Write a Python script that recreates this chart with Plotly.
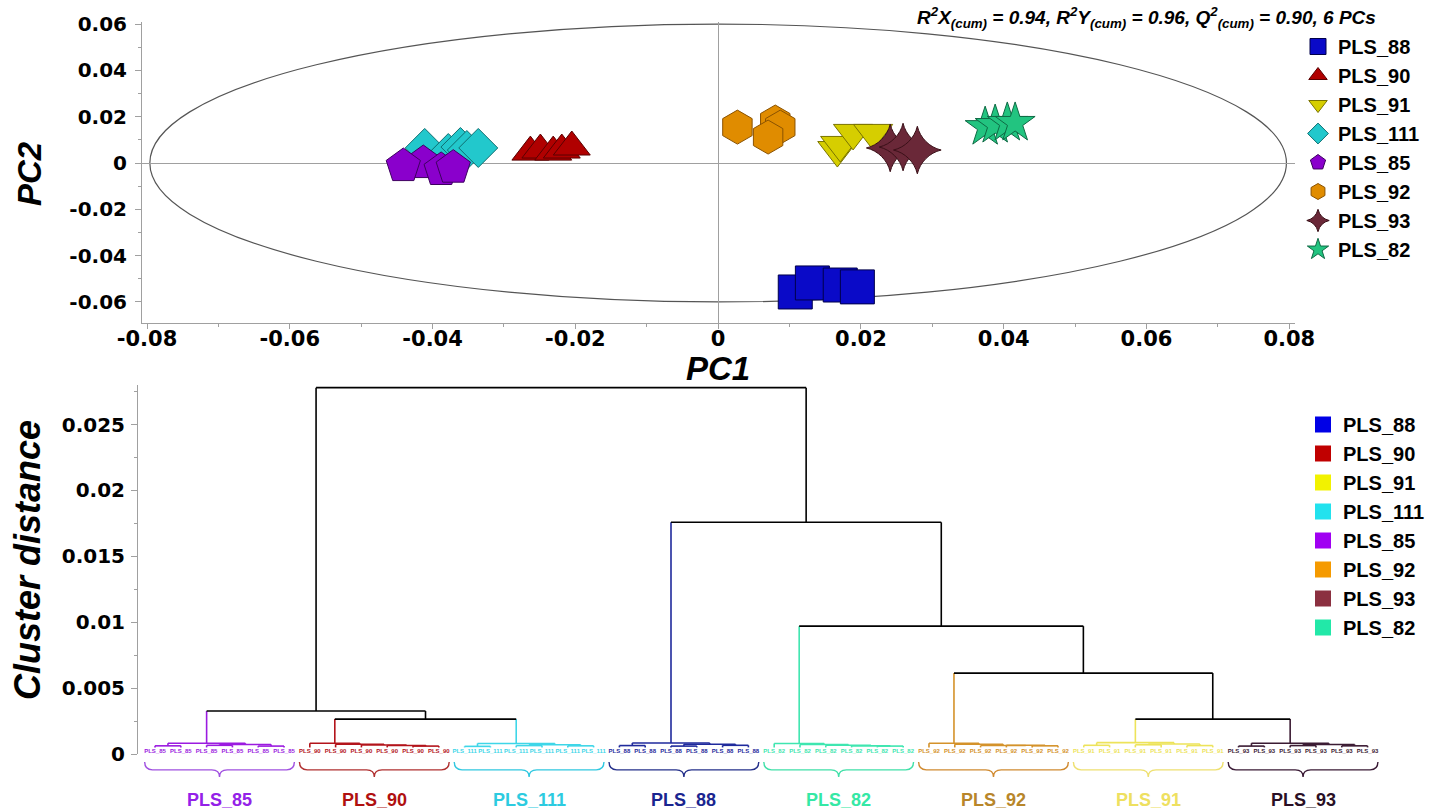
import plotly.graph_objects as go

# ---------------- Top panel: PLS score plot ----------------
SCORE_GROUPS = ["PLS_88", "PLS_90", "PLS_91", "PLS_111", "PLS_85", "PLS_92", "PLS_93", "PLS_82"]
SCORE_SYMBOLS = ["square", "triangle-up", "triangle-down", "diamond", "pentagon", "hexagon", "star-diamond", "star"]
SCORE_COLORS = ["#0A0AC8", "#B00000", "#D6CE00", "#22C8CC", "#8A00CC", "#E08C00", "#6A2838", "#22C480"]
SCORE_LINE_COLORS = ["#00004A", "#5A0000", "#7A7400", "#0E6E70", "#3E0060", "#8A5200", "#3A1018", "#0E6A44"]
SCORE_SIZES = [34, 32, 34, 30, 36, 34, 34, 30]

PC1_88 = [0.0108, 0.0132, 0.0171, 0.0195]
PC2_88 = [-0.0557, -0.0518, -0.0527, -0.0535]
PC1_90 = [-0.0263, -0.0249, -0.0231, -0.0219, -0.0205]
PC2_90 = [0.0047, 0.0056, 0.0047, 0.0056, 0.0069]
PC1_91 = [0.0167, 0.0171, 0.0189, 0.0217]
PC2_91 = [0.0056, 0.0078, 0.0130, 0.0130]
PC1_111 = [-0.0411, -0.0378, -0.0361, -0.0352, -0.0336]
PC2_111 = [0.0065, 0.0043, 0.0069, 0.0056, 0.0065]
PC1_85 = [-0.0413, -0.0441, -0.0388, -0.0371]
PC2_85 = [0.0000, -0.0013, -0.0030, -0.0020]
PC1_92 = [0.0027, 0.0080, 0.0087, 0.0070]
PC2_92 = [0.0155, 0.0177, 0.0155, 0.0112]
PC1_93 = [0.0241, 0.0259, 0.0279]
PC2_93 = [0.0065, 0.0069, 0.0056]
PC1_82 = [0.0374, 0.0388, 0.0405, 0.0416]
PC2_82 = [0.0155, 0.0164, 0.0173, 0.0173]

SCORE_PC1 = [PC1_88, PC1_90, PC1_91, PC1_111, PC1_85, PC1_92, PC1_93, PC1_82]
SCORE_PC2 = [PC2_88, PC2_90, PC2_91, PC2_111, PC2_85, PC2_92, PC2_93, PC2_82]

ELLIPSE_A = 0.0796
ELLIPSE_B = 0.0600

PC1_TICKS = [-0.08, -0.06, -0.04, -0.02, 0, 0.02, 0.04, 0.06, 0.08]
PC1_TICKTEXT = ["-0.08", "-0.06", "-0.04", "-0.02", "0", "0.02", "0.04", "0.06", "0.08"]
PC2_TICKS = [-0.06, -0.04, -0.02, 0, 0.02, 0.04, 0.06]
PC2_TICKTEXT = ["-0.06", "-0.04", "-0.02", "0", "0.02", "0.04", "0.06"]

# ---------------- Bottom panel: dendrogram ----------------
LEAF_GROUPS = ["PLS_85", "PLS_90", "PLS_111", "PLS_88", "PLS_82", "PLS_92", "PLS_91", "PLS_93"]
LEAF_LINE_COLORS = ["#9B1BE0", "#B3141B", "#3ED6E8", "#1F2A9C", "#3FE6B0", "#D4922A", "#EDE35A", "#3B1B33"]
GROUP_LABEL_COLORS = ["#9421E8", "#B01010", "#2CCBE0", "#1A2590", "#35E8A5", "#B8862A", "#EEE060", "#2A0F25"]
BRACKET_COLORS = ["#A050E0", "#B03030", "#30C8E0", "#25308A", "#40E0A8", "#D08A30", "#EEE070", "#3A1A35"]
N_PER_GROUP = 6

TOPOLOGY_A = [[0, 1], [2, 3], [4, 5], [7, 8], [6, 9]]
TOPOLOGY_B = [[4, 5], [3, 6], [2, 7], [1, 8], [0, 9]]
GROUP_TOPOLOGY = ["A", "B", "A", "A", "B", "B", "A", "A"]

WITHIN_85 = [0.00062, 0.00066, 0.00060, 0.00072, 0.00082]
WITHIN_90 = [0.00060, 0.00064, 0.00068, 0.00074, 0.00082]
WITHIN_111 = [0.00058, 0.00064, 0.00062, 0.00070, 0.00080]
WITHIN_88 = [0.00064, 0.00060, 0.00066, 0.00074, 0.00084]
WITHIN_82 = [0.00060, 0.00062, 0.00066, 0.00072, 0.00080]
WITHIN_92 = [0.00062, 0.00066, 0.00064, 0.00074, 0.00082]
WITHIN_91 = [0.00066, 0.00070, 0.00064, 0.00076, 0.00086]
WITHIN_93 = [0.00060, 0.00064, 0.00062, 0.00072, 0.00082]
WITHIN_HEIGHTS = [WITHIN_85, WITHIN_90, WITHIN_111, WITHIN_88, WITHIN_82, WITHIN_92, WITHIN_91, WITHIN_93]

# group-level merges (ids >= 8 refer to earlier merges, scipy style)
GROUP_MERGES = [[1, 2], [0, 8], [6, 7], [5, 10], [4, 11], [3, 12], [9, 13]]
GROUP_MERGE_HEIGHTS = [0.00265, 0.00326, 0.00265, 0.00614, 0.0097, 0.01758, 0.0278]

LEAF_BASE = 0.0005
LEAF_LABEL_Y = 0.00018

DIST_TICKS = [0, 0.005, 0.01, 0.015, 0.02, 0.025]
DIST_TICKTEXT = ["0", "0.005", "0.01", "0.015", "0.02", "0.025"]

LEGEND2_GROUPS = ["PLS_88", "PLS_90", "PLS_91", "PLS_111", "PLS_85", "PLS_92", "PLS_93", "PLS_82"]
LEGEND2_COLORS = ["#0000E6", "#C00000", "#F2F200", "#22E2EE", "#A000F2", "#F59A00", "#8B3040", "#22E8A8"]

W, H = 1452, 811
BLACK = "#000000"

fig = go.Figure()

# ---- score traces
for name, sym, col, lc, sz, xs, ys in zip(SCORE_GROUPS, SCORE_SYMBOLS, SCORE_COLORS,
                                          SCORE_LINE_COLORS, SCORE_SIZES, SCORE_PC1, SCORE_PC2):
    fig.add_trace(go.Scatter(
        x=xs, y=ys, mode="markers", name=name, xaxis="x", yaxis="y", legend="legend",
        marker=dict(symbol=sym, size=sz, color=col, line=dict(color=lc, width=1)),
        hoverinfo="x+y+name"))

# ---- dendrogram construction
topos = {"A": TOPOLOGY_A, "B": TOPOLOGY_B}
node_x, node_h, node_g = {}, {}, {}
n_leaves = len(LEAF_GROUPS) * N_PER_GROUP
for i in range(n_leaves):
    node_x[i] = i
    node_h[i] = LEAF_BASE
    node_g[i] = i // N_PER_GROUP

segs = {}


def seg_color(nid):
    g = node_g[nid]
    return BLACK if g is None else LEAF_LINE_COLORS[g]


def add_seg(color, x0, y0, x1, y1):
    segs.setdefault(color, [[], []])
    segs[color][0] += [x0, x1, None]
    segs[color][1] += [y0, y1, None]


def merge(a, b, h, nid, grp):
    node_x[nid] = (node_x[a] + node_x[b]) / 2
    node_h[nid] = h
    node_g[nid] = grp
    add_seg(seg_color(a), node_x[a], node_h[a], node_x[a], h)
    add_seg(seg_color(b), node_x[b], node_h[b], node_x[b], h)
    add_seg(seg_color(nid), node_x[a], h, node_x[b], h)


next_id = n_leaves
group_nodes = {}
for g in range(len(LEAF_GROUPS)):
    local = {k: g * N_PER_GROUP + k for k in range(N_PER_GROUP)}
    for m, (a, b) in enumerate(topos[GROUP_TOPOLOGY[g]]):
        merge(local[a], local[b], WITHIN_HEIGHTS[g][m], next_id, g)
        local[N_PER_GROUP + m] = next_id
        next_id += 1
    group_nodes[g] = next_id - 1

for m, (a, b) in enumerate(GROUP_MERGES):
    merge(group_nodes[a], group_nodes[b], GROUP_MERGE_HEIGHTS[m], next_id, None)
    group_nodes[len(LEAF_GROUPS) + m] = next_id
    next_id += 1

for color, (xs, ys) in segs.items():
    fig.add_trace(go.Scatter(x=xs, y=ys, mode="lines", xaxis="x2", yaxis="y2",
                             line=dict(color=color, width=1.6), showlegend=False,
                             hoverinfo="skip"))

# leaf labels
for g, name in enumerate(LEAF_GROUPS):
    xs = [g * N_PER_GROUP + k for k in range(N_PER_GROUP)]
    fig.add_trace(go.Scatter(x=xs, y=[LEAF_LABEL_Y] * N_PER_GROUP, mode="text",
                             text=[name] * N_PER_GROUP, xaxis="x2", yaxis="y2",
                             textfont=dict(family="Liberation Sans", size=6, color=LEAF_LINE_COLORS[g],
                                           weight="bold"),
                             showlegend=False, hoverinfo="skip", cliponaxis=False))

# legend 2 entries
for name, col in zip(LEGEND2_GROUPS, LEGEND2_COLORS):
    fig.add_trace(go.Scatter(x=[None], y=[None], mode="markers", name=name, xaxis="x2", yaxis="y2",
                             legend="legend2",
                             marker=dict(symbol="square", size=20, color=col)))

shapes = []
annotations = []

# ellipse
shapes.append(dict(type="circle", xref="x", yref="y", x0=-ELLIPSE_A, x1=ELLIPSE_A,
                   y0=-ELLIPSE_B, y1=ELLIPSE_B, line=dict(color="#555555", width=1.2),
                   layer="below"))

# brackets and group labels
yt, yb, ytk = -0.022, -0.043, -0.062
for g, name in enumerate(LEAF_GROUPS):
    x0 = g * N_PER_GROUP - 0.4
    x1 = g * N_PER_GROUP + N_PER_GROUP - 1 + 0.4
    xc = (x0 + x1) / 2
    path = (f"M {x0},{yt} Q {x0},{yb} {x0 + 0.3},{yb} L {xc - 0.3},{yb} "
            f"Q {xc},{yb} {xc},{ytk} Q {xc},{yb} {xc + 0.3},{yb} "
            f"L {x1 - 0.3},{yb} Q {x1},{yb} {x1},{yt}")
    shapes.append(dict(type="path", xref="x2", yref="y2 domain", path=path,
                       line=dict(color=BRACKET_COLORS[g], width=1.4)))
    annotations.append(dict(x=xc, y=-0.125, xref="x2", yref="y2 domain", text=f"<b>{name}</b>",
                            showarrow=False, xanchor="center", yanchor="middle",
                            font=dict(family="Liberation Sans", size=18, color=GROUP_LABEL_COLORS[g])))

# axis titles and stats annotation
title_font = dict(family="Liberation Sans", size=33, color="black")
annotations.append(dict(x=718 / W, y=1 - 369 / H, xref="paper", yref="paper", text="<b><i>PC1</i></b>",
                        showarrow=False, font=title_font, xanchor="center", yanchor="middle"))
annotations.append(dict(x=29 / W, y=1 - 174 / H, xref="paper", yref="paper", text="<b><i>PC2</i></b>",
                        showarrow=False, font=title_font, textangle=-90, xanchor="center", yanchor="middle"))
annotations.append(dict(x=27 / W, y=1 - 560 / H, xref="paper", yref="paper",
                        text="<b><i>Cluster distance</i></b>", showarrow=False,
                        font=dict(family="Liberation Sans", size=36, color="black"),
                        textangle=-90, xanchor="center", yanchor="middle"))
annotations.append(dict(x=1378 / W, y=1 - 18 / H, xref="paper", yref="paper",
                        text=("<b><i>R<sup>2</sup>X<sub>(cum)</sub> = 0.94, R<sup>2</sup>Y<sub>(cum)</sub> = 0.96, "
                              "Q<sup>2</sup><sub>(cum)</sub> = 0.90, 6 PCs</i></b>"),
                        showarrow=False, font=dict(family="Liberation Sans", size=19, color="black"),
                        xanchor="right", yanchor="middle"))

tick_font = dict(family="DejaVu Sans", size=20, color="black", weight="bold")
axis_gray = "#A0A0A0"

fig.update_layout(
    template="none",
    width=W, height=H, margin=dict(l=0, r=0, t=0, b=0, autoexpand=False),
    paper_bgcolor="white", plot_bgcolor="white",
    xaxis=dict(domain=[142 / W, 1295 / W], range=[-0.0807, 0.0808], anchor="y", automargin=False,
               tickvals=PC1_TICKS, ticktext=PC1_TICKTEXT, showgrid=False,
               zeroline=True, zerolinecolor=axis_gray, zerolinewidth=1,
               showline=True, linecolor=axis_gray, linewidth=1,
               ticks="outside", ticklen=5, tickcolor=axis_gray,
               minor=dict(dtick=0.01, ticks="outside", ticklen=3, tickcolor=axis_gray, showgrid=False),
               tickfont=dict(family="DejaVu Sans", size=21, color="black", weight="bold"),
               ticklabelstandoff=-8),
    yaxis=dict(domain=[1 - 323 / H, 1 - 22 / H], range=[-0.0691, 0.0609], anchor="x", automargin=False,
               tickvals=PC2_TICKS, ticktext=PC2_TICKTEXT, showgrid=False,
               zeroline=True, zerolinecolor=axis_gray, zerolinewidth=1,
               showline=True, linecolor=axis_gray, linewidth=1,
               ticks="outside", ticklen=6, tickcolor=axis_gray,
               minor=dict(dtick=0.01, ticks="outside", ticklen=3, tickcolor=axis_gray, showgrid=False),
               tickfont=tick_font, ticklabelstandoff=4),
    xaxis2=dict(domain=[138 / W, 1390 / W], range=[-0.66, 47.87], anchor="y2", automargin=False,
                visible=False, showgrid=False, zeroline=False),
    yaxis2=dict(domain=[1 - 754 / H, 1 - 385 / H], range=[0, 0.028], anchor="x2", automargin=False,
                tickvals=DIST_TICKS, ticktext=DIST_TICKTEXT, showgrid=False, zeroline=False,
                showline=True, linecolor=axis_gray, linewidth=1,
                ticks="outside", ticklen=6, tickcolor=axis_gray,
                minor=dict(dtick=0.0025, ticks="outside", ticklen=3, tickcolor=axis_gray, showgrid=False),
                tickfont=tick_font, ticklabelstandoff=2),
    legend=dict(x=1298 / W, y=1 - 27 / H, xanchor="left", yanchor="top",
                font=dict(family="Liberation Sans", size=20, color="black", weight="bold"),
                bgcolor="rgba(0,0,0,0)", itemsizing="trace"),
    legend2=dict(x=1303 / W, y=1 - 405 / H, xanchor="left", yanchor="top",
                 font=dict(family="Liberation Sans", size=20, color="black", weight="bold"),
                 bgcolor="rgba(0,0,0,0)"),
    shapes=shapes, annotations=annotations,
)

fig.write_html("out.html", config={"displayModeBar": False},
               post_script="document.body.style.margin='0';")
